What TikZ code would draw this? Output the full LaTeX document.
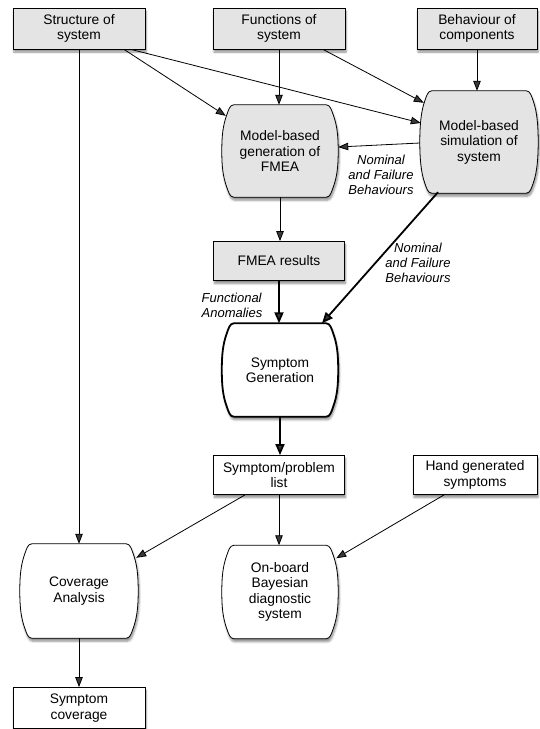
\documentclass[tikz,border=0pt]{standalone}
\usepackage{fontspec}
\setmainfont{Liberation Sans}
\usetikzlibrary{arrows.meta,calc,shadows,shadows.blur,backgrounds}
\usepackage{xcolor}
\definecolor{boxgray}{HTML}{E4E4E4}

% outline of the rounded "process" nodes, drawn round a named node
\newcommand{\barrelpath}[1]{%
  ($(#1.north west)+(12,0)$) -- ($(#1.north east)+(-12,0)$)
  .. controls +(4,0) and +(-1.7,-4.7) .. ($(#1.north east)+(-5,10)$)
  .. controls +(4,11) and +(0,-15) .. (#1.east)
  .. controls +(0,15) and +(4,-11) .. ($(#1.south east)+(-5,-10)$)
  .. controls +(-1.7,4.7) and +(4,0) .. ($(#1.south east)+(-12,0)$)
  -- ($(#1.south west)+(12,0)$)
  .. controls +(-4,0) and +(1.7,4.7) .. ($(#1.south west)+(5,-10)$)
  .. controls +(-4,-11) and +(0,15) .. (#1.west)
  .. controls +(0,-15) and +(-4,11) .. ($(#1.north west)+(5,10)$)
  .. controls +(1.7,-4.7) and +(-4,0) .. ($(#1.north west)+(12,0)$) -- cycle}

\begin{document}
\begin{tikzpicture}[x=1pt,y=-1pt,>={Triangle[length=10pt,width=7.5pt]},
  every node/.style={font=\fontsize{13.8}{15.5}\selectfont,align=center,inner sep=0pt},
  shade/.style={blur shadow={shadow xshift=1pt,shadow yshift=-3pt,shadow blur steps=6,shadow opacity=45}},
  box/.style={draw,line width=0.8pt,minimum width=132pt,minimum height=41pt,shade},
  graybox/.style={box,fill=boxgray},
  whitebox/.style={box,fill=white},
  barrel/.style={minimum width=116pt,minimum height=93pt},
  barrelline/.style={draw,line width=0.8pt,shade},
  lbl/.style={font=\fontsize{13}{15}\selectfont\itshape},
  link/.style={->,line width=0.8pt},
  boldlink/.style={->,line width=1.8pt,>={Triangle[length=11pt,width=9pt]}}]
        \useasboundingbox (0,0) rectangle (539,729);
        % inputs
        \node[graybox] (struct) at (79,28.5) {Structure of\\system};
        \node[graybox] (func) at (279,28.5) {Functions of\\system};
        \node[graybox,minimum width=120pt] (behav) at (477,28.5) {Behaviour of\\components};
        % model based stages
        \node[barrel,minimum height=92pt] (fmeagen) at (280,151) {Model-based\\generation of\\FMEA};
        \node[barrel,minimum width=118pt,minimum height=102pt] (sim) at (479,142) {Model-based\\simulation of\\system};
        \node[graybox,minimum width=131pt,minimum height=39pt] (fmeares) at (279,261) {FMEA results};
        \node[barrel] (symgen) at (280,370) {Symptom\\Generation};
        % outputs
        \node[whitebox,minimum width=131pt,minimum height=39pt] (symlist) at (279,475) {Symptom/problem\\list};
        \node[whitebox,minimum width=124pt,minimum height=39pt] (hand) at (475,475) {Hand generated\\symptoms};
        \node[barrel,minimum width=118pt,minimum height=94pt] (cov) at (79,591) {Coverage\\Analysis};
        \node[barrel] (onboard) at (280,592) {On-board\\Bayesian\\diagnostic\\system};
        \node[whitebox] (symcov) at (79,708) {Symptom\\coverage};
        \begin{pgfonlayer}{background}
        \path[barrelline,fill=boxgray] \barrelpath{fmeagen};
        \path[barrelline,fill=boxgray] \barrelpath{sim};
        \path[barrelline,fill=white,line width=1.8pt] \barrelpath{symgen};
        \path[barrelline,fill=white] \barrelpath{cov};
        \path[barrelline,fill=white] \barrelpath{onboard};
        \end{pgfonlayer}
        % connectors
        \draw[link] (struct.south) -- (cov.north);
        \draw[link] ($(struct.south)+(45,0)$) -- ($(fmeagen.north west)+(4,11)$);
        \draw[link] ($(struct.south)+(52,0)$) -- ($(sim.west)+(1,-19)$);
        \draw[link] (func.south) -- (func.south |- fmeagen.north);
        \draw[link] ($(func.south)+(44,0)$) -- ($(sim.north west)+(4,12)$);
        \draw[link] (behav.south) -- (behav.south |- sim.north);
        \draw[link] ($(sim.west)+(0,1)$) -- ($(fmeagen.east)+(0,-4)$);
        \draw[link] (fmeagen.south) -- (fmeagen.south |- fmeares.north);
        \draw[boldlink] ($(sim.south)+(-41,-1)$) -- ($(symgen.north)+(42,0)$);
        \draw[boldlink] (fmeares.south) -- (fmeares.south |- symgen.north);
        \draw[boldlink] (symgen.south) -- (symgen.south |- symlist.north);
        \draw[link] ($(symlist.south)+(-34,0)$) -- ($(cov.north east)+(-2,14)$);
        \draw[link] (symlist.south) -- (symlist.south |- onboard.north);
        \draw[link] ($(hand.south)+(-31,0)$) -- ($(onboard.north east)+(-2,13)$);
        \draw[link] (cov.south) -- (symcov.north);
        % edge labels
        \node[lbl] (nomsim) at (381,175) {Nominal\\and Failure\\Behaviours};
        \node[lbl] (nomgen) at (418,263) {Nominal\\and Failure\\Behaviours};
        \node[lbl,align=left] (funcan) at (232,305) {Functional\\Anomalies};
\end{tikzpicture}
\end{document}
